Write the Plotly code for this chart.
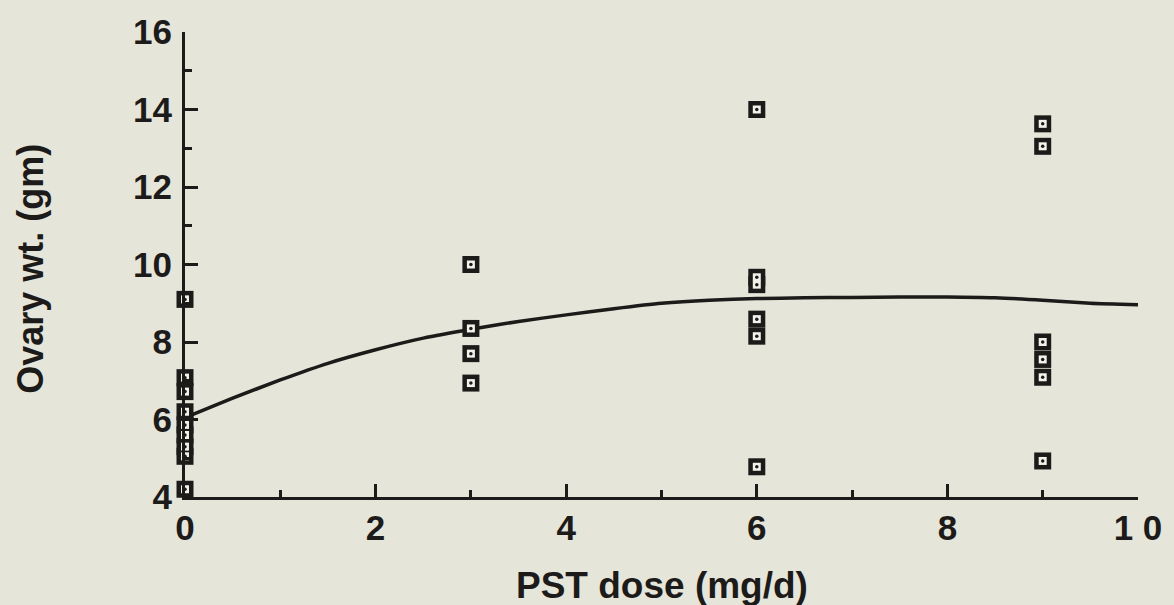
import plotly.graph_objects as go

# Individual ovary weights by PST dose
dose_obs = [0, 0, 0, 0, 0, 0, 0, 0, 0,
            3, 3, 3, 3,
            6, 6, 6, 6, 6, 6,
            9, 9, 9, 9, 9, 9]
ovary_wt = [9.1, 7.08, 6.72, 6.2, 5.86, 5.6, 5.3, 5.05, 4.2,
            10.0, 8.35, 7.7, 6.94,
            14.0, 9.67, 9.48, 8.59, 8.15, 4.78,
            13.63, 13.05, 8.0, 7.55, 7.09, 4.93]

# Fitted response curve
curve_dose = [0, 0.5, 1, 1.5, 2, 2.5, 3, 3.5, 4, 4.5, 5, 5.5, 6, 6.5, 7,
              7.5, 8, 8.5, 9, 9.5, 10]
curve_wt = [6.05, 6.55, 7.02, 7.45, 7.8, 8.1, 8.33, 8.53, 8.7, 8.86, 9.0,
            9.08, 9.12, 9.14, 9.15, 9.16, 9.16, 9.14, 9.08, 9.0, 8.96]

x_ticks = [0, 2, 4, 6, 8, 10]
x_ticktext = ["0", "2", "4", "6", "8", "1 0"]
y_ticks = [4, 6, 8, 10, 12, 14, 16]
y_ticktext = ["4", "6", "8", "10", "12", "14", "16"]

INK = "#1d1b19"
PAPER = "#e5e5d9"
FONT = "Liberation Sans"

fig = go.Figure()

fig.add_trace(go.Scatter(
    x=curve_dose, y=curve_wt, mode="lines",
    line=dict(color=INK, width=3.5, shape="spline", smoothing=0.6),
    hoverinfo="skip", cliponaxis=False))

# square markers: dark frame, light centre, small dark dot
fig.add_trace(go.Scatter(
    x=dose_obs, y=ovary_wt, mode="markers",
    marker=dict(symbol="square", size=17, color=INK, line=dict(width=0)),
    cliponaxis=False))
fig.add_trace(go.Scatter(
    x=dose_obs, y=ovary_wt, mode="markers",
    marker=dict(symbol="square", size=8, color="#f2f2ea", line=dict(width=0)),
    cliponaxis=False, hoverinfo="skip"))
fig.add_trace(go.Scatter(
    x=dose_obs, y=ovary_wt, mode="markers",
    marker=dict(symbol="circle", size=3.5, color=INK, line=dict(width=0)),
    cliponaxis=False, hoverinfo="skip"))

tick_font = dict(family=FONT, size=35, color=INK, weight="bold")
axis_common = dict(
    showline=True, linecolor=INK, linewidth=3, mirror=False,
    showgrid=False, zeroline=False,
    ticks="inside", ticklen=13, tickwidth=3, tickcolor=INK,
    minor=dict(ticks="inside", ticklen=7, tickwidth=3, tickcolor=INK, dtick=1),
    tickfont=tick_font,
)

fig.update_xaxes(range=[0, 10], tickmode="array", tickvals=x_ticks,
                 ticktext=x_ticktext, ticklabelstandoff=-2, **axis_common)
fig.update_yaxes(range=[4, 16], tickmode="array", tickvals=y_ticks,
                 ticktext=y_ticktext, ticklabelstandoff=3, **axis_common)

fig.update_layout(
    width=1174, height=605,
    margin=dict(l=185, r=28, t=24, b=108),
    paper_bgcolor=PAPER, plot_bgcolor=PAPER,
    showlegend=False,
    annotations=[
        dict(text="<b>PST dose (mg/d)</b>", xref="paper", yref="paper",
             x=0.5, y=-0.19, xanchor="center", yanchor="middle",
             showarrow=False, font=dict(family=FONT, size=37, color=INK)),
        dict(text="<b>Ovary wt. (gm)</b>", xref="paper", yref="paper",
             x=-0.162, y=0.49, xanchor="center", yanchor="middle",
             textangle=-90, showarrow=False,
             font=dict(family=FONT, size=36, color=INK)),
    ],
)

fig.write_html("out.html")
